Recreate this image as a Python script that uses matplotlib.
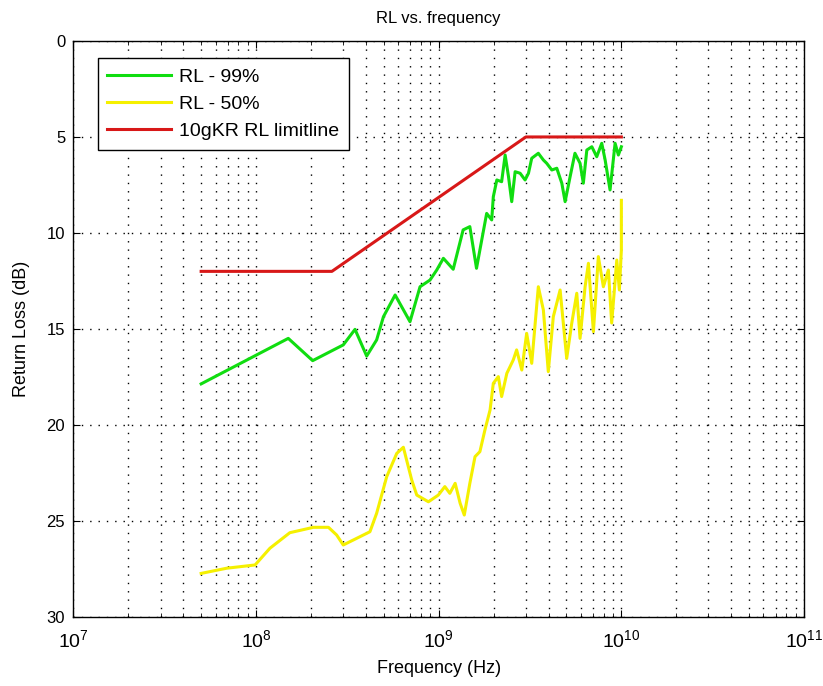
import matplotlib
matplotlib.use("Agg")
import matplotlib.pyplot as plt
from matplotlib.ticker import LogLocator, NullFormatter

plt.rcParams['font.family'] = ['Liberation Sans', 'DejaVu Sans']
plt.rcParams['mathtext.default'] = 'regular'

# RL - 99%
f99 = [5e7, 1.5e8, 2.04e8, 3.0e8, 3.48e8, 4.03e8, 4.57e8, 4.98e8, 5.77e8, 6.96e8,
       7.9e8, 8.96e8, 9.75e8, 1.06e9, 1.2e9, 1.36e9, 1.48e9, 1.61e9, 1.72e9, 1.83e9,
       1.95e9, 1.99e9, 2.08e9, 2.21e9, 2.31e9, 2.41e9, 2.51e9, 2.62e9, 2.79e9, 2.97e9,
       3.1e9, 3.23e9, 3.51e9, 3.74e9, 3.9e9, 4.16e9, 4.43e9, 4.72e9, 4.92e9, 5.24e9,
       5.57e9, 5.94e9, 6.19e9, 6.47e9, 6.89e9, 7.33e9, 7.81e9, 8.15e9, 8.67e9, 9.24e9,
       9.63e9, 1.0e10]
rl99 = [17.86, 15.49, 16.65, 15.83, 15.02, 16.41, 15.57, 14.36, 13.23, 14.62,
        12.8, 12.45, 11.93, 11.32, 11.89, 9.84, 9.67, 11.84, 10.36, 8.98,
        9.32, 8.11, 7.24, 7.33, 5.94, 7.07, 8.37, 6.81, 6.89, 7.24,
        6.89, 6.11, 5.85, 6.2, 6.37, 6.72, 6.63, 7.41, 8.37, 7.07,
        5.85, 6.37, 7.41, 5.68, 5.51, 6.03, 5.33, 6.2, 7.76, 5.33,
        5.94, 5.51]

# RL - 50%
f50 = [5e7, 6.9e7, 9.87e7, 1.19e8, 1.53e8, 2.06e8, 2.49e8, 2.76e8, 3.0e8, 3.56e8,
       4.2e8, 4.57e8, 5.19e8, 5.89e8, 6.4e8, 7.11e8, 7.58e8, 8.78e8, 9.95e8, 1.08e9,
       1.15e9, 1.23e9, 1.31e9, 1.38e9, 1.48e9, 1.58e9, 1.68e9, 1.79e9, 1.91e9, 1.99e9,
       2.12e9, 2.21e9, 2.36e9, 2.56e9, 2.67e9, 2.85e9, 3.03e9, 3.23e9, 3.51e9, 3.74e9,
       3.98e9, 4.24e9, 4.62e9, 5.02e9, 5.35e9, 5.7e9, 5.94e9, 6.33e9, 6.6e9, 7.03e9,
       7.48e9, 7.97e9, 8.49e9, 8.85e9, 9.44e9, 9.75e9, 1.0e10, 1.0e10]
rl50 = [27.73, 27.46, 27.29, 26.42, 25.61, 25.33, 25.33, 25.73, 26.25, 25.9,
        25.56, 24.6, 22.69, 21.48, 21.16, 22.86, 23.65, 24.0, 23.65, 23.21,
        23.56, 23.04, 24.08, 24.69, 23.04, 21.65, 21.39, 20.26, 19.22, 17.83,
        17.48, 18.52, 17.31, 16.61, 16.09, 17.14, 15.23, 16.79, 12.8, 14.01,
        17.22, 14.36, 12.97, 16.53, 14.7, 13.14, 15.49, 12.8, 11.58, 15.14,
        11.23, 12.8, 11.93, 14.69, 11.41, 12.97, 10.89, 8.3]

# 10gKR RL limitline
f_lim = [5e7, 2.6e8, 3e9, 1e10]
rl_lim = [12, 12, 5, 5]

fig = plt.figure(figsize=(8.23, 6.86), dpi=100)
ax = fig.add_axes([0.0893, 0.1006, 0.8876, 0.8397])

ax.plot(f99, rl99, color='#10dd10', lw=2.2, label='RL - 99%')
ax.plot(f50, rl50, color='#f5f000', lw=2.2, label='RL - 50%')
ax.plot(f_lim, rl_lim, color='#d81818', lw=2.2, label='10gKR RL limitline')

ax.set_xscale('log')
ax.set_xlim(1e7, 1e11)
ax.set_ylim(30, 0)
ax.set_yticks(range(0, 31, 5))
ax.xaxis.set_major_locator(LogLocator(base=10, numticks=10))
ax.xaxis.set_minor_locator(LogLocator(base=10, subs=range(2, 10), numticks=20))
ax.xaxis.set_minor_formatter(NullFormatter())

dots = (0, (1, 5))
ax.grid(True, which='major', axis='both', color='black', linestyle=dots, lw=1.0)
ax.grid(True, which='minor', axis='x', color='black', linestyle=dots, lw=1.0)
ax.tick_params(which='both', direction='in', top=True, right=True)
ax.tick_params(axis='y', labelsize=12, pad=6)
ax.tick_params(axis='x', labelsize=14, pad=9)
ax.tick_params(which='major', length=5)
ax.tick_params(which='minor', length=3)
for s in ax.spines.values():
    s.set_linewidth(1.0)

ax.set_title('RL vs. frequency', fontsize=12, pad=13)
ax.set_xlabel('Frequency (Hz)', fontsize=13, labelpad=6)
ax.set_ylabel('Return Loss (dB)', fontsize=13, labelpad=12)

leg = ax.legend(loc='upper left', bbox_to_anchor=(0.033, 0.97), borderaxespad=0,
                fontsize=14, handlelength=3.3, handletextpad=0.4,
                labelspacing=0.5, borderpad=0.5, fancybox=False,
                framealpha=1, edgecolor='black')
leg.get_frame().set_linewidth(1.0)

fig.savefig('out.png', dpi=100)
